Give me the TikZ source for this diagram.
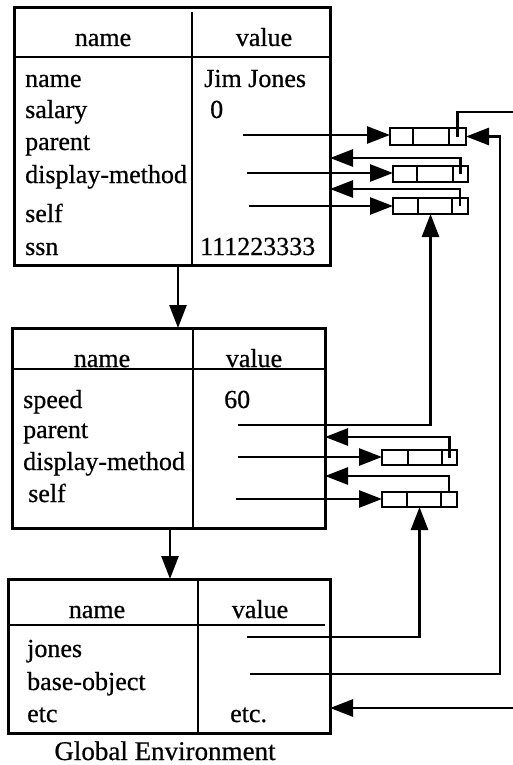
\documentclass[tikz,border=0pt]{standalone}
\usepackage{fontspec}
\setmainfont[FakeBold=0.6]{Liberation Serif}
\usetikzlibrary{arrows.meta,calc}

% a three-compartment cell: name, left, top, width, height, first rule, second rule
\newcommand\ConsCell[7]{%
  \node[cellbox, anchor=north west, minimum width=#4pt, minimum height=#5pt] (#1) at (#2,#3) {};
  \draw[cellrule] ($(#1.north west)+(#6,0)$) -- ($(#1.south west)+(#6,0)$);
  \draw[cellrule] ($(#1.north west)+(#7,0)$) -- ($(#1.south west)+(#7,0)$);
  \coordinate (#1-p) at ($(#1.west)+({(#7+#4)/2},0)$);
}

\begin{document}
\begin{tikzpicture}[x=1pt, y=-1pt,
  frame/.style={draw, line width=3pt, inner sep=0pt, outer sep=0pt, anchor=north west},
  rule/.style={line width=2.8pt},
  cellbox/.style={draw, line width=2.8pt, inner sep=0pt, outer sep=0pt},
  cellrule/.style={line width=2.6pt},
  link/.style={line width=2.7pt, -{Triangle[length=23pt, width=17pt]}},
  txt/.style={anchor=base west, inner sep=0pt, font=\fontsize{26}{30}\selectfont},
  hdr/.style={anchor=base, inner sep=0pt, font=\fontsize{26}{30}\selectfont}]

\useasboundingbox (0,0) rectangle (513,765);

% ---------- first frame ----------
\node[frame, minimum width=316pt, minimum height=257pt] (f1) at (14,8) {};
\draw[rule] (192,12) -- (192,265);
\draw[rule] (14,57) -- (330,57);
\node[hdr] (f1hn) at (103,46) {name};
\node[hdr] (f1hv) at (264,46) {value};
\node[txt] (f1n1) at (25,87) {name};
\node[txt] (f1n2) at (25,118) {salary};
\node[txt] (f1n3) at (25,150) {parent};
\node[txt] (f1n4) at (25,183) {display-method};
\node[txt] (f1n5) at (25,222) {self};
\node[txt] (f1n6) at (25,255) {ssn};
\node[txt] (f1v1) at (204,87) {Jim Jones};
\node[txt] (f1v2) at (210,118) {0};
\node[txt] (f1v6) at (200,255) {111223333};

% ---------- second frame ----------
\node[frame, minimum width=313pt, minimum height=200pt] (f2) at (12,328) {};
\draw[rule] (193,328) -- (193,528);
\draw[rule] (12,369) -- (325,369);
\node[hdr] (f2hn) at (102,367) {name};
\node[hdr] (f2hv) at (254,367) {value};
\node[txt] (f2n1) at (23,408) {speed};
\node[txt] (f2n2) at (23,438) {parent};
\node[txt] (f2n3) at (23,470) {display-method};
\node[txt] (f2n4) at (28,502) {self};
\node[txt] (f2v1) at (224,408) {60};

% ---------- global frame ----------
\node[frame, minimum width=322pt, minimum height=154pt] (f3) at (8,579) {};
\draw[rule] (198,579) -- (198,733);
\draw[rule] (8,625) -- (325,625);
\node[hdr] (f3hn) at (97,618) {name};
\node[hdr] (f3hv) at (260,618) {value};
\node[txt] (f3n1) at (27,657) {jones};
\node[txt] (f3n2) at (27,690) {base-object};
\node[txt] (f3n3) at (27,722) {etc};
\node[txt] (f3v3) at (230,722) {etc.};
\node[hdr, font=\fontsize{27}{30}\selectfont] (cap) at (165,760) {Global Environment};

% ---------- cells ----------
\ConsCell{c1}{390}{128}{76}{17}{23}{59}
\ConsCell{c2}{393}{166}{75}{16}{24}{60}
\ConsCell{c3}{393}{198}{75}{16}{25}{59}
\ConsCell{c4}{382}{450}{75}{15}{26}{60}
\ConsCell{c5}{382}{492}{75}{15}{25}{59}

% ---------- value slots ----------
\coordinate (a1) at (243,135);
\coordinate (a2) at (247,173);
\coordinate (a3) at (249,206);
\coordinate (b1) at (238,425);
\coordinate (b2) at (238,457);
\coordinate (b3) at (236,499);
\coordinate (g1) at (247,637);
\coordinate (g2) at (250,674);

% ---------- frame chain ----------
\draw[link] (f1.south -| 178,0) -- (f2.north -| 178,0);
\draw[link] (f2.south -| 170,0) -- (f3.north -| 170,0);

% ---------- pointers of the first frame ----------
\draw[link] (a1) -- (a1 -| c1.west);
\draw[link] (a2) -- (a2 -| c2.west);
\draw[link] (a3) -- (a3 -| c3.west);
\draw[link] (c2-p) |- (f1.east |- 0,158);
\draw[link] (c3-p) |- (f1.east |- 0,189);
\draw[link] (c1-p) |- (520,112) |- (f3.east |- 0,708);

% ---------- pointers of the second frame ----------
\draw[link] (b1) -| (c3.south);
\draw[link] (b2) -- (b2 -| c4.west);
\draw[link] (b3) -- (b3 -| c5.west);
\draw[link] (c4-p) |- (f2.east |- 0,437);
\draw[link] (c5-p |- c5.north) |- (f2.east |- 0,476);

% ---------- pointers of the global frame ----------
\draw[link] (g1) -| (c5.south);
\draw[link] (g2) -| (500,136.5) -- (c1.east);

\end{tikzpicture}
\end{document}
